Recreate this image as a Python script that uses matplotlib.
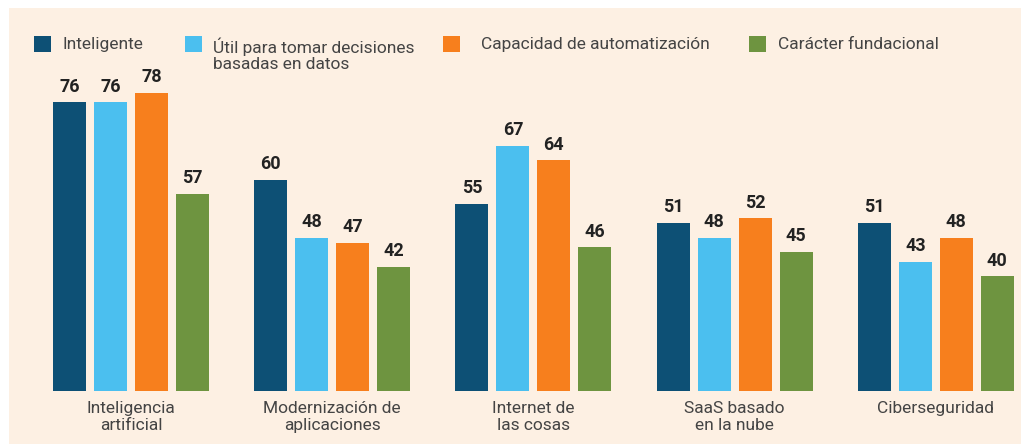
import matplotlib.pyplot as plt
from matplotlib.patches import Rectangle

plt.rcParams['font.family'] = ['Roboto', 'DejaVu Sans']

categories = ["Inteligencia\nartificial", "Modernización de\naplicaciones",
              "Internet de\nlas cosas", "SaaS basado\nen la nube", "Ciberseguridad"]
series = ["Inteligente", "Útil para tomar decisiones\nbasadas en datos",
          "Capacidad de automatización", "Carácter fundacional"]
inteligente = [76, 60, 55, 51, 51]
util = [76, 48, 67, 48, 43]
automatizacion = [78, 47, 64, 52, 48]
fundacional = [57, 42, 46, 45, 40]
values = [inteligente, util, automatizacion, fundacional]
colors = ["#0d5075", "#4bbfef", "#f77f1d", "#6e9440"]

W, H = 1021, 446
fig = plt.figure(figsize=(W / 100, H / 100), dpi=100, facecolor="white")
fig.patches.append(Rectangle((9 / W, 2 / H), 1, (H - 10) / H, transform=fig.transFigure,
                             facecolor="#fdf0e3", edgecolor="none", zorder=-10))

# baseline at y=391px, top at y=30px
ax = fig.add_axes([0, (H - 391) / H, 1, (391 - 30) / H])
ax.set_facecolor("none")
ax.set_xlim(-131 / 201.2, (W - 131) / 201.2)
ax.set_ylim(16.3, 91.0)
ax.axis("off")

pitch = 41 / 201.2
width = 33 / 201.2
for j, (vals, col) in enumerate(zip(values, colors)):
    xs = [i + (j - 1.5) * pitch for i in range(len(categories))]
    bars = ax.bar(xs, vals, width=width, color=col, edgecolor="none")
    for b, v in zip(bars, vals):
        ax.annotate(str(v), (b.get_x() + b.get_width() / 2, v), xytext=(0, 5),
                    textcoords="offset points", ha="center", va="bottom",
                    fontsize=13, fontweight="bold", color="#222222")

for i, cat in enumerate(categories):
    ax.annotate(cat, (i, 16.3), xytext=(0, -7), textcoords="offset points",
                ha="center", va="top", fontsize=12.5, color="#444444",
                linespacing=1.15, annotation_clip=False)

# legend
leg_sq = [34, 185, 443, 749]
leg_tx = [62, 213, 481, 778]
for sx, tx, lab, col in zip(leg_sq, leg_tx, series, colors):
    fig.patches.append(Rectangle((sx / W, (H - 52) / H), 17 / W, 16 / H,
                                 transform=fig.transFigure, facecolor=col, edgecolor="none"))
    fig.text(tx / W, (H - 37) / H, lab, ha="left", va="top", fontsize=12.5,
             color="#444444", linespacing=1.1)

fig.savefig("out.png", dpi=100, facecolor=fig.get_facecolor())
